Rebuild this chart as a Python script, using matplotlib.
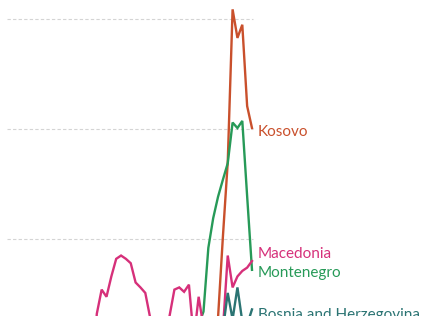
import numpy as np
import matplotlib.pyplot as plt

# monthly index, the last point of every series is month 50
kosovo_t = [42, 43, 44, 45, 46, 47, 48, 49, 50]
kosovo_v = [1.75, 2.85, 10.2, 17.0, 30.9, 28.3, 29.5, 22.1, 20.1]

montenegro_t = [39, 40, 41, 42, 43, 44, 45, 46, 47, 48, 49, 50]
montenegro_v = [2.2, 3.4, 9.2, 11.9, 13.85, 15.4, 16.9, 20.6, 20.1, 20.75, 13.9, 7.2]

macedonia_t = list(range(17, 51))
macedonia_v = [-3.0, 3.2, 5.4, 4.75, 6.6, 8.2, 8.5, 8.2, 7.8, 6.05, 5.6, 5.1,
               2.85, 1.3, 0.9, 1.75, 3.0, 5.4, 5.6, 5.2, 5.85, 0.9, 4.75, 2.0,
               1.3, 1.3, 1.3, 1.75, 8.5, 5.6, 6.6, 7.1, 7.4, 8.0]

bosnia_t = [44, 45, 46, 47, 48, 49, 50]
bosnia_v = [1.75, 5.1, 2.7, 5.6, 2.5, 2.2, 3.6]

grid_vals = [10, 20, 30]

series = [
    ("Kosovo", kosovo_t, kosovo_v, "#c9502c", -4),
    ("Montenegro", montenegro_t, montenegro_v, "#279a58", -3),
    ("Macedonia", macedonia_t, macedonia_v, "#d6307a", 7),
    ("Bosnia and Herzegovina", bosnia_t, bosnia_v, "#2b7473", -6),
]

plt.rcParams['font.family'] = ['Lato', 'DejaVu Sans']

fig = plt.figure(figsize=(4.26, 3.16), dpi=100)
ax = fig.add_axes([0, 0, 1, 1])

ax.hlines(grid_vals, -0.52, 50.2, colors="#d4d4d4", linestyles=(0, (3, 2)), linewidth=0.8)

for name, t, v, col, dy in series:
    ax.plot(t, v, color=col, linewidth=1.7, solid_joinstyle="miter")
    ax.annotate(name, xy=(t[-1], v[-1]), xytext=(6, dy), textcoords="offset pixels",
                color=col, fontsize=11, va="center", ha="left")

ax.set_xlim(-1.959, 85.88)
ax.set_ylim(3.0, 31.75)
ax.axis("off")

fig.savefig("out.png", dpi=100)
